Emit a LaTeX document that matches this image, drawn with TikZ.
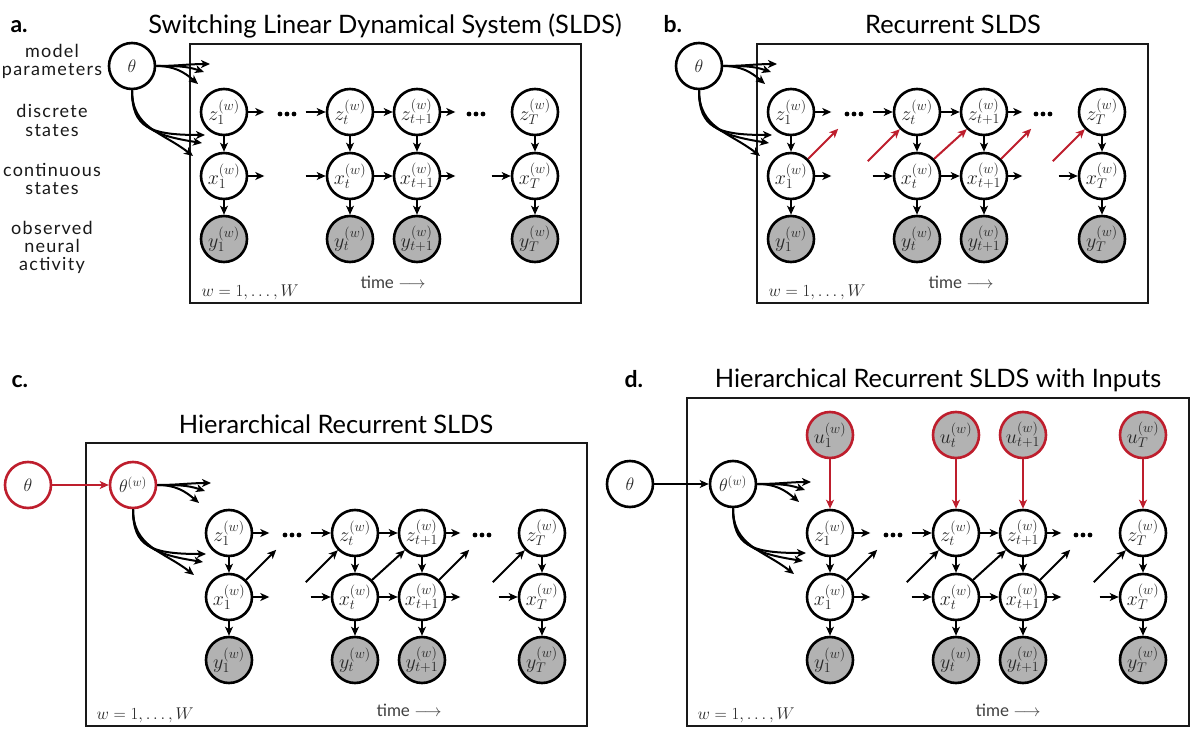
\RequirePackage{fix-cm}
\documentclass[tikz,border=0pt]{standalone}
\usepackage[no-math]{fontspec}
\setmainfont{Lato}
\newfontfamily\sidefont[LetterSpace=7]{Lato}
\usetikzlibrary{arrows.meta,calc}
\definecolor{myred}{RGB}{190,30,45}
\definecolor{obsfill}{RGB}{178,178,178}
\tikzset{
 lat/.style={circle, draw=black, line width=2.6pt, minimum size=46pt, inner sep=0pt, fill=white, text=black!85, font=\fontsize{20}{22}\selectfont},
 obs/.style={lat, fill=obsfill},
 inp/.style={obs, draw=myred},
 par/.style={lat, font=\fontsize{18}{20}\selectfont},
 arr/.style={line width=2pt, -{Stealth[length=9pt,width=8pt,inset=2.5pt]}},
 diagred/.style={arr, draw=myred},
 diagblk/.style={arr},
 platebox/.style={line width=2.6pt, draw=black!90},
 ttl/.style={anchor=base, font=\fontsize{25.4}{28}\selectfont},
 plbl/.style={anchor=base west, font=\fontsize{23}{28}\selectfont\bfseries},
 side/.style={anchor=base, font=\fontsize{18}{18}\sidefont, text=black!90},
 wlbl/.style={anchor=base west, font=\fontsize{17}{18}\selectfont, text=black!85},
 tlbl/.style={anchor=base west, font=\fontsize{17}{18}\selectfont, text=black!75},
}
% #1 prefix, #2..#5 column x, #6 z row, #7 x row, #8 y row
\newcommand{\mkchain}[8]{%
 \node[lat] (#1z1) at (#2,#6) {$z_1^{(w)}$};
 \node[lat] (#1zt) at (#3,#6) {$z_t^{(w)}$};
 \node[lat] (#1zu) at (#4,#6) {$z_{t+1}^{(w)}$};
 \node[lat] (#1zT) at (#5,#6) {$z_T^{(w)}$};
 \node[lat] (#1x1) at (#2,#7) {$x_1^{(w)}$};
 \node[lat] (#1xt) at (#3,#7) {$x_t^{(w)}$};
 \node[lat] (#1xu) at (#4,#7) {$x_{t+1}^{(w)}$};
 \node[lat] (#1xT) at (#5,#7) {$x_T^{(w)}$};
 \node[obs] (#1y1) at (#2,#8) {$y_1^{(w)}$};
 \node[obs] (#1yt) at (#3,#8) {$y_t^{(w)}$};
 \node[obs] (#1yu) at (#4,#8) {$y_{t+1}^{(w)}$};
 \node[obs] (#1yT) at (#5,#8) {$y_T^{(w)}$};
 \foreach \c in {1,t,u,T} {\draw[arr] (#1z\c) -- (#1x\c); \draw[arr] (#1x\c) -- (#1y\c);}
 \draw[arr] (#1z1.east) -- ++(16,0);
 \draw[arr] ($(#1zt.west)+(-20,0)$) -- (#1zt.west);
 \draw[arr] (#1zt) -- (#1zu);
 \draw[arr] (#1zu.east) -- ++(14,0);
 \draw[arr] (#1x1.east) -- ++(16,0);
 \draw[arr] ($(#1xt.west)+(-20,0)$) -- (#1xt.west);
 \draw[arr] (#1xt) -- (#1xu);
 \draw[arr] (#1xu.east) -- ++(14,0);
 \draw[arr] ($(#1xT.west)+(-19,0)$) -- (#1xT.west);
 \path ($(#1z1)!0.5!(#1zt)$) coordinate (#1d1);
 \path ($(#1zu)!0.5!(#1zT)$) coordinate (#1d2);
 \fill ([xshift=-7pt,yshift=-2pt]#1d1) circle[radius=2.4pt] ([yshift=-2pt]#1d1) circle[radius=2.4pt] ([xshift=7pt,yshift=-2pt]#1d1) circle[radius=2.4pt];
 \fill ([xshift=-7pt,yshift=-2pt]#1d2) circle[radius=2.4pt] ([yshift=-2pt]#1d2) circle[radius=2.4pt] ([xshift=7pt,yshift=-2pt]#1d2) circle[radius=2.4pt];
}
\newcommand{\mkdiag}[2]{%
 \draw[#2] (#1x1.north east) -- ++(30,-30);
 \draw[#2] ($(#1zt.south west)+(-32,32)$) -- (#1zt.south west);
 \draw[#2] (#1xt.north east) -- (#1zu.south west);
 \draw[#2] (#1xu.north east) -- ++(30,-30);
 \draw[#2] ($(#1zT.south west)+(-32,32)$) -- (#1zT.south west);
}
\newcommand{\mkfan}[1]{%
 \draw[arr] (#1.east) .. controls ($(#1.east)+(20,0)$) and ($(#1)+(58,-2)$) .. ($(#1)+(78,-2)$);
 \draw[arr] (#1.east) .. controls ($(#1.east)+(20,0)$) and ($(#1)+(54,0)$) .. ($(#1)+(72,6)$);
 \draw[arr] (#1.east) .. controls ($(#1.east)+(18,0)$) and ($(#1)+(52,6)$) .. ($(#1)+(66,18)$);
 \draw[arr] (#1.south) .. controls ($(#1)+(0,62)$) and ($(#1)+(18,69)$) .. ($(#1)+(73,69)$);
 \draw[arr] (#1.south) .. controls ($(#1)+(0,62)$) and ($(#1)+(25,70)$) .. ($(#1)+(70,77)$);
 \draw[arr] (#1.south) .. controls ($(#1)+(0,62)$) and ($(#1)+(30,66)$) .. ($(#1)+(61,90)$);
}
\begin{document}
\begin{tikzpicture}[x=1pt,y=-1pt]
\useasboundingbox (0,0) rectangle (1200,738);
\fill[white] (0,0) rectangle (1200,738);

% ---------------- panel a
\node[plbl] (la) at (7,33) {a.};
\node[ttl] (ta) at (385,34) {Switching Linear Dynamical System (SLDS)};
\draw[platebox] (190,44) rectangle (581,303);
\node[side] (s1) at (52,58) {model};
\node[side] (s2) at (52,76) {parameters};
\node[side] (s3) at (52,118) {discrete};
\node[side] (s4) at (52,137) {states};
\node[side] (s5) at (52,177) {continuous};
\node[side] (s6) at (52,195) {states};
\node[side] (s7) at (52,235) {observed};
\node[side] (s8) at (52,253) {neural};
\node[side] (s9) at (52,271) {activity};
\node[par] (ath) at (132,66) {$\theta$};
\mkfan{ath}
\mkchain{a}{224}{350}{417}{535}{112}{176}{239}
\node[wlbl] (aw) at (198,297) {$w=1,\ldots,W$};
\node[tlbl] (atime) at (357,289) {time $\longrightarrow$};

% ---------------- panel b
\node[plbl] (lb) at (660,33) {b.};
\node[ttl] (tb) at (953,34) {Recurrent SLDS};
\draw[platebox] (757,44) rectangle (1148,303);
\node[par] (bth) at (699,66) {$\theta$};
\mkfan{bth}
\mkchain{b}{791}{917}{984}{1102}{112}{176}{239}
\mkdiag{b}{diagred}
\node[wlbl] (bw) at (765,297) {$w=1,\ldots,W$};
\node[tlbl] (btime) at (925,289) {time $\longrightarrow$};

% ---------------- panel c
\node[plbl] (lc) at (8,387) {c.};
\node[ttl] (tc) at (336,433) {Hierarchical Recurrent SLDS};
\draw[platebox] (86,443) rectangle (587,726);
\node[par, draw=myred] (cth) at (28,485) {$\theta$};
\node[par, draw=myred] (ctw) at (133,485) {$\theta^{(w)}$};
\draw[arr, draw=myred] (cth) -- (ctw);
\mkfan{ctw}
\mkchain{c}{229}{355}{422}{542}{533}{597}{660}
\mkdiag{c}{diagblk}
\node[wlbl] (cw) at (93,719) {$w=1,\ldots,W$};
\node[tlbl] (ctime) at (373,716) {time $\longrightarrow$};

% ---------------- panel d
\node[plbl] (ld) at (621,387) {d.};
\node[ttl] (td) at (938,387) {Hierarchical Recurrent SLDS with Inputs};
\draw[platebox] (687,398) rectangle (1189,726);
\node[par] (dth) at (630,484) {$\theta$};
\node[par] (dtw) at (733,484) {$\theta^{(w)}$};
\draw[arr] (dth) -- (dtw);
\mkfan{dtw}
\mkchain{d}{830}{956}{1023}{1143}{533}{597}{660}
\mkdiag{d}{diagblk}
\node[inp] (du1) at (830,435) {$u_1^{(w)}$};
\node[inp] (dut) at (956,435) {$u_t^{(w)}$};
\node[inp] (duu) at (1023,435) {$u_{t+1}^{(w)}$};
\node[inp] (duT) at (1143,435) {$u_T^{(w)}$};
\foreach \c in {1,t,u,T} {\draw[arr, draw=myred] (du\c) -- (dz\c);}
\node[wlbl] (dw) at (694,719) {$w=1,\ldots,W$};
\node[tlbl] (dtime) at (972,716) {time $\longrightarrow$};
\end{tikzpicture}
\end{document}
